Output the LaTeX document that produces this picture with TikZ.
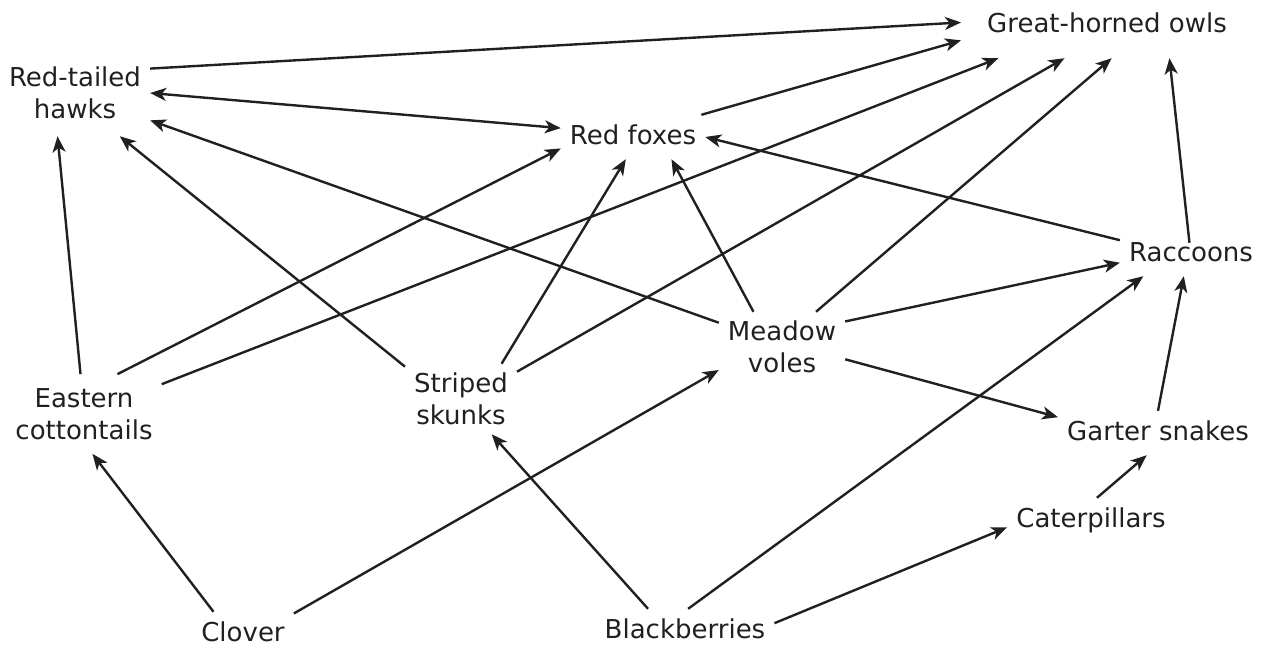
\documentclass[tikz,border=0pt]{standalone}
\usepackage{fontspec}
\setmainfont{DejaVu Sans}
\usetikzlibrary{arrows.meta}
\definecolor{ink}{RGB}{35,31,32}
\tikzset{
  >={Stealth[length=16pt,width=13pt,inset=4.5pt]},
  sp/.style={inner sep=9pt,text height=20pt,text depth=6pt,font=\fontsize{26}{32}\selectfont,text=ink},
  sp2/.style={inner sep=9pt,align=center,font=\fontsize{26}{32}\selectfont,text=ink},
  arr/.style={->,line width=2.4pt,draw=ink},
}
\begin{document}
\begin{tikzpicture}[x=1pt,y=-1pt]
 \useasboundingbox (0,0) rectangle (1264,645);
 \node[sp,inner xsep=26pt,inner ysep=20pt] (owl) at (1107,25) {Great-horned owls};
 \node[sp2,inner ysep=17pt] (hawk) at (75,93) {Red-tailed\\hawks};
 \node[sp] (fox) at (633,137) {Red foxes};
 \node[sp] (racc) at (1191,254) {Raccoons};
 \node[sp2] (vole) at (782,347) {Meadow\\voles};
 \node[sp2] (skunk) at (461,399) {Striped\\skunks};
 \node[sp2,inner ysep=14pt] (cott) at (84,414) {Eastern\\cottontails};
 \node[sp] (snake) at (1158,433) {Garter snakes};
 \node[sp] (cat) at (1091,520) {Caterpillars};
 \node[sp] (clov) at (243,634) {Clover};
 \node[sp] (berry) at (685,631) {Blackberries};
 \draw[arr] (hawk.18) -- (owl.179);
 \draw[arr,<->] (hawk.0) -- (fox.173);
 \draw[arr] (vole.159) -- (hawk.340);
 \draw[arr] (skunk.150) -- (hawk.316);
 \draw[arr] (cott.95) -- (hawk.248);
 \draw[arr] (cott.50) -- (fox.189);
 \draw[arr] (cott.21) -- (owl.197);
 \draw[arr] (fox.18) -- (owl.186);
 \draw[arr] (skunk.26) -- (owl.218);
 \draw[arr] (vole.46) -- (owl.278);
 \draw[arr,shorten <=-11pt] (racc.97) -- (owl.332);
 \draw[arr] (skunk.41) -- (fox.252);
 \draw[arr] (vole.129) -- (fox.330);
 \draw[arr] (racc.169) -- (fox.0);
 \draw[arr] (vole.22) -- (racc.187);
 \draw[arr] (berry.82) -- (racc.205);
 \draw[arr] (snake.90) -- (racc.252);
 \draw[arr] (vole.349) -- (snake.171);
 \draw[arr] (clov.143) -- (cott.282);
 \draw[arr] (clov.22) -- (vole.200);
 \draw[arr] (berry.149) -- (skunk.311);
 \draw[arr] (berry.5) -- (cat.185);
 \draw[arr] (cat.75) -- (snake.243);
\end{tikzpicture}
\end{document}
